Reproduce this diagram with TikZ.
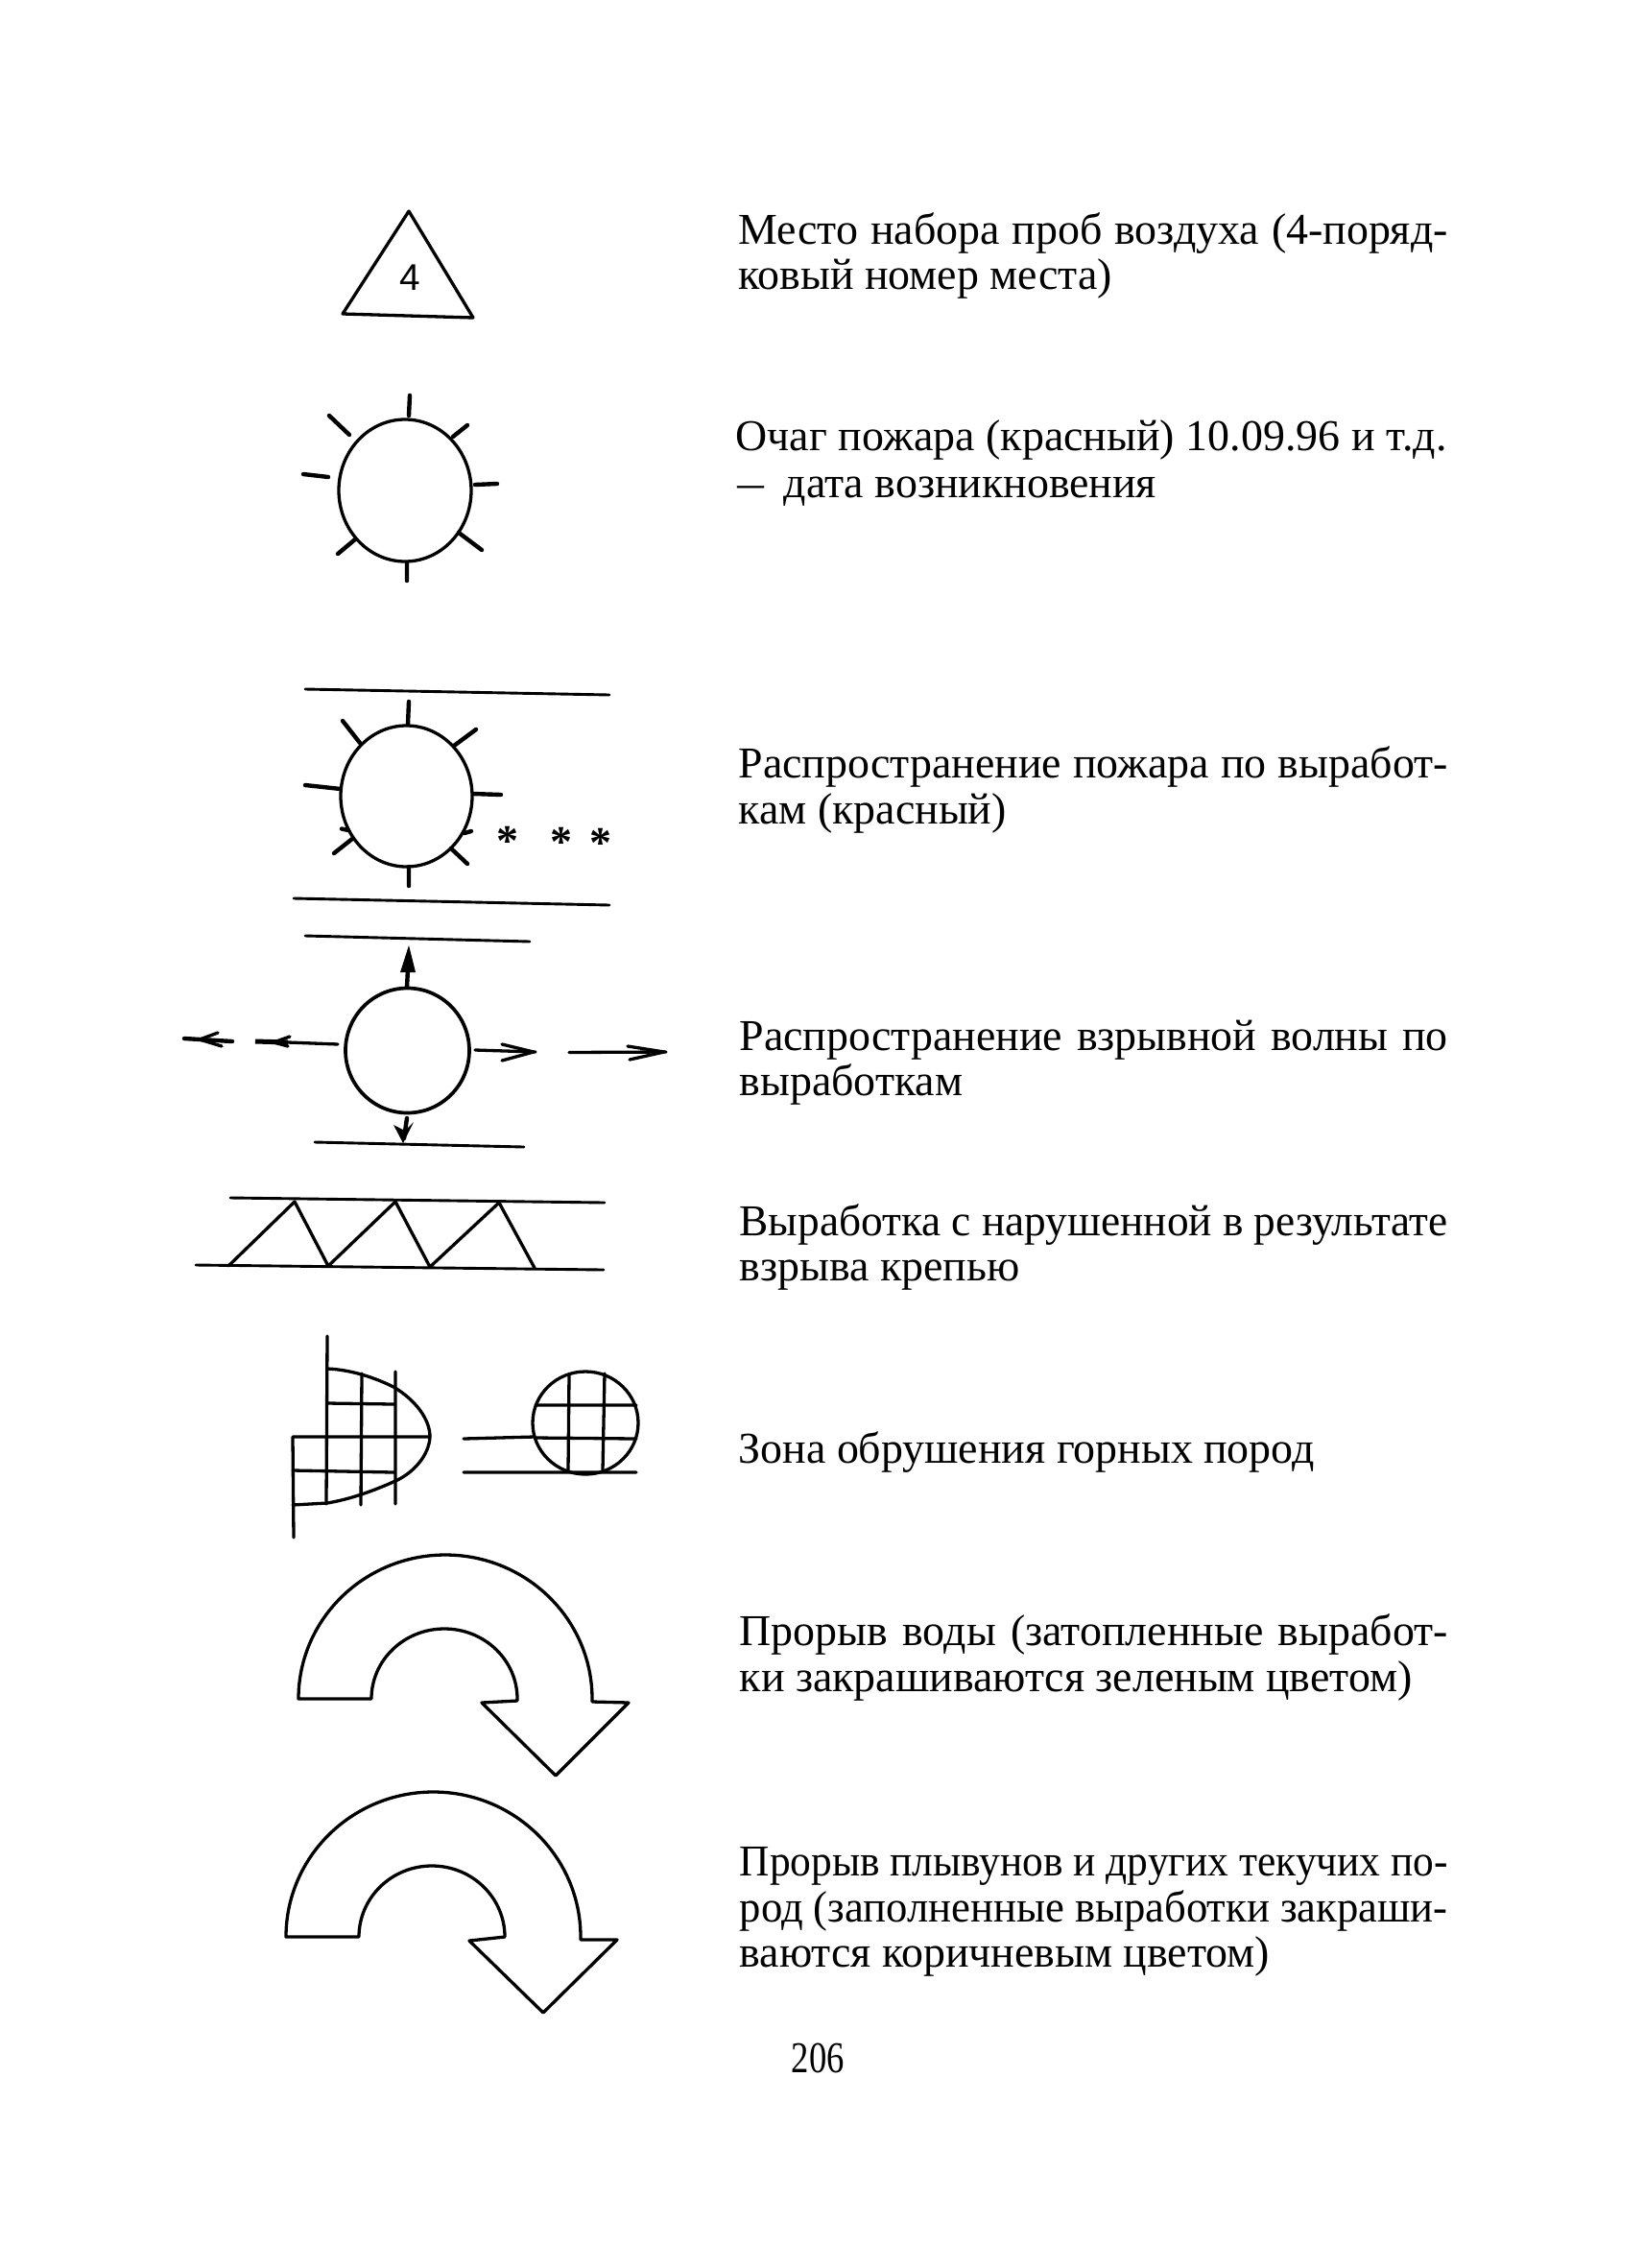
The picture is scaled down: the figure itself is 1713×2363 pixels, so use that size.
\documentclass[tikz,border=0pt]{standalone}
\usepackage{fontspec}
\setmainfont{Liberation Serif}
\newfontfamily\sansf{Liberation Sans}
\usetikzlibrary{arrows.meta}
\newlength\pxu \setlength\pxu{0.01cm}
\newsavebox\jbox
\newcommand\jl[2][739]{\sbox\jbox{#2}\ifdim\wd\jbox>#1\pxu\resizebox{#1\pxu}{\height}{#2}\else\makebox[#1\pxu][s]{#2}\fi}
\tikzset{
  x=0.01cm,y=-0.01cm,
  ink/.style={line width=3.3*\pxu,line join=round,line cap=round,black},
  heavy/.style={line width=4.4*\pxu,line cap=round,black},
  thin ink/.style={line width=2.9*\pxu,line cap=round,black},
  txt/.style={anchor=base west,inner sep=0pt,font=\fontsize{13.05pt}{15pt}\selectfont},
  star/.style={anchor=base,inner sep=0pt,font=\fontsize{13.05pt}{15pt}\selectfont\bfseries},
}
\begin{document}
\begin{tikzpicture}
\fill[white] (0,0) rectangle (1713,2363);
\useasboundingbox (0,0) rectangle (1713,2363);
% triangle
\draw[ink] (426,220) -- (357,327) -- (493,331) -- cycle;
\node[anchor=center,inner sep=0pt,font=\sansf\fontsize{11pt}{13pt}\selectfont] (four) at (427,289) {4};
% sun 1
\draw[ink] (422,511) circle[x radius=69,y radius=74];
\draw[heavy] (427,412)--(426,433) (343,433)--(364,453) (487,443)--(472,455) (495,505)--(518,504)
  (316,494)--(342,497) (478,555)--(502,573) (352,577)--(370,562) (424,587)--(424,605);
% sun 2
\draw[thin ink] (318,718)--(635,724) (306,936)--(635,943);
\draw[ink] (423.5,829.5) circle[x radius=68.5,y radius=73.5];
\draw[heavy] (426,731)--(425,755) (357,751)--(375,774) (496,760)--(473,777) (318,818)--(355,822)
  (522,828)--(493,827) (484,868)--(491,866) (487,900)--(470,884) (348,889)--(367,874)
  (356,863.5)--(363,865) (426,903)--(426,923);
\node[star] (s1) at (529,891) {*};
\node[star] (s2) at (585,892) {*};
\node[star] (s3) at (626,893) {*};
% circle with arrows
\draw[thin ink] (318,975)--(552,981) (328,1190)--(546,1195);
\draw[ink,line width=3.7*\pxu] (424.5,1094.5) circle[x radius=64.5,y radius=65];
\draw[heavy] (424,1028)--(425,1010);
\fill (426,985) -- (433,1013) -- (417,1013) -- cycle;
\draw[heavy] (424,1165)--(421,1186);
\fill (420,1191) -- (410,1172) -- (422,1178) -- (431,1169) -- cycle;
\draw[ink] (352,1088)--(300,1086);
\draw[line width=5*\pxu,black] (300,1086)--(266,1085);
\draw[ink] (302,1080)--(285,1086)--(300,1090);
\draw[heavy] (192,1082)--(242,1085);
\draw[ink] (227,1076)--(208,1083)--(231,1090);
\draw[ink] (495,1094)--(558,1096);
\draw[ink] (523,1088)--(556,1096)--(523,1105);
\draw[ink] (593,1096.5)--(694,1096);
\draw[ink] (654,1090)--(692,1096)--(656,1104);
% damaged working
\draw[thin ink] (240,1248)--(630,1253) (204,1318)--(629,1323);
\draw[ink] (238,1319)--(307,1252)--(342,1319)--(412,1252)--(448,1320)--(520,1253)--(557,1321);
% collapse zone
\draw[ink] (341,1392)--(340,1567) (305,1497)--(306,1602) (305,1497)--(448,1497)
  (341,1462)--(410,1463) (305,1532)--(410,1534) (377,1431)--(376,1568) (412,1429)--(412,1567);
\draw[ink] (341,1426) .. controls (365,1427) and (390,1435) .. (410,1445)
  .. controls (432,1458) and (448,1478) .. (448,1497)
  .. controls (447,1517) and (430,1535) .. (412,1543)
  .. controls (390,1553) and (365,1562) .. (341,1566) -- (305,1568);
\draw[ink] (610,1482.5) circle[x radius=55,y radius=53.5];
\draw[ink] (593,1432)--(592,1533) (630,1431)--(628,1532) (558,1464)--(663,1464) (557,1498)--(663,1499)
  (483,1499)--(557,1497) (483,1534)--(663,1534);
% water arrow
\draw[ink] (311,1770) arc[start angle=180,end angle=360,x radius=153,y radius=150]
  -- (617,1773) -- (655,1774) -- (579,1850) -- (502,1774) -- (539,1772)
  -- (539,1770) arc[start angle=360,end angle=180,x radius=76,y radius=73] -- cycle;
% quicksand arrow
\draw[ink] (298,2018) arc[start angle=180,end angle=360,x radius=153.5,y radius=151]
  -- (605,2021) -- (643,2021) -- (566,2097) -- (489,2022) -- (526,2018)
  arc[start angle=360,end angle=180,x radius=76,y radius=74] -- cycle;
% texts
\node[txt] (a1) at (769,254) {\jl{Место набора проб воздуха (4-поряд-}};
\node[txt] (a2) at (769,301) {ковый номер места)};
\node[txt] (b1) at (766,469) {\jl[741]{Очаг пожара (красный) 10.09.96 и т.д.}};
\node[txt] (b2) at (768,518) {\resizebox{28\pxu}{\height}{—}\hspace{20\pxu}дата возникновения};
\node[txt] (c1) at (769,810) {\jl{Распространение пожара по выработ-}};
\node[txt] (c2) at (769,858) {кам (красный)};
\node[txt] (d1) at (770,1094) {\jl[738]{Распространение взрывной волны по}};
\node[txt] (d2) at (770,1141) {выработкам};
\node[txt] (e1) at (770,1287) {\jl[738]{Выработка с нарушенной в результате}};
\node[txt] (e2) at (770,1334) {взрыва крепью};
\node[txt] (f1) at (769,1524) {Зона обрушения горных пород};
\node[txt] (g1) at (770,1714) {\jl[738]{Прорыв воды (затопленные выработ-}};
\node[txt] (g2) at (770,1762) {ки закрашиваются зеленым цветом)};
\node[txt] (h1) at (770,1954) {\jl[738]{Прорыв плывунов и других текучих по-}};
\node[txt] (h2) at (770,2002) {\jl[738]{род (заполненные выработки закраши-}};
\node[txt] (h3) at (770,2049) {ваются коричневым цветом)};
\node[txt] (pg) at (824,2159) {\resizebox{55\pxu}{\height}{206}};
\end{tikzpicture}
\end{document}
